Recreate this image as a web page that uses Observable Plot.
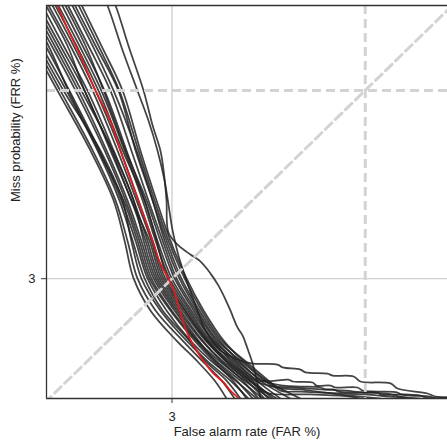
<!DOCTYPE html>
<html><head><meta charset="utf-8">
<script src="https://cdn.jsdelivr.net/npm/d3@7"></script>
<script src="https://cdn.jsdelivr.net/npm/@observablehq/plot@0.6"></script>
<style>
html,body{margin:0;padding:0;background:#fff;}
#chart{width:447px;height:448px;overflow:hidden;}
</style></head><body><div id="chart"></div>
<script>
// Axes are in normal-deviate (probit) units of the error rates (DET plot)
const farDomain = [-2.270, -1.027];
const frrDomain = [-2.262, -1.012];
const tickLabels = ["3"];          // % labels
const tickZ = [-1.881];            // probit(3%)
const refZ = [-1.282];             // probit(10%) reference (dashed)
const diagonal = [-2.4, -0.9];

// miss-rate levels (deviates) at which the FAR of each system curve was read
const frrLevels = [-0.965, -1.140, -1.283, -1.473, -1.632, -1.760, -1.880, -1.982, -2.078, -2.141, -2.205, -2.262];

const farCurves = [
  [-2.413, -2.313, -2.236, -2.134, -2.062, -2.028, -2.000, -1.948, -1.867, -1.805, -1.749, -1.712],
  [-2.403, -2.304, -2.227, -2.127, -2.056, -2.019, -1.988, -1.932, -1.848, -1.789, -1.727, -1.687],
  [-2.391, -2.295, -2.217, -2.103, -2.034, -2.007, -1.976, -1.917, -1.836, -1.774, -1.700, -1.644],
  [-2.382, -2.286, -2.208, -2.112, -2.044, -2.003, -1.966, -1.910, -1.827, -1.780, -1.712, -1.669],
  [-2.372, -2.273, -2.199, -2.106, -2.038, -1.994, -1.957, -1.898, -1.824, -1.762, -1.684, -1.619],
  [-2.360, -2.264, -2.202, -2.109, -2.031, -1.988, -1.951, -1.886, -1.811, -1.755, -1.693, -1.650],
  [-2.351, -2.254, -2.180, -2.090, -2.025, -1.982, -1.945, -1.882, -1.805, -1.746, -1.669, -1.600],
  [-2.338, -2.245, -2.171, -2.084, -2.019, -1.976, -1.938, -1.873, -1.802, -1.737, -1.656, -1.576],
  [-2.329, -2.236, -2.162, -2.065, -2.000, -1.969, -1.932, -1.867, -1.799, -1.749, -1.681, -1.631],
  [-2.320, -2.227, -2.152, -2.072, -2.007, -1.963, -1.926, -1.861, -1.789, -1.727, -1.644, -1.557],
  [-2.307, -2.217, -2.143, -2.062, -2.000, -1.957, -1.920, -1.855, -1.786, -1.731, -1.662, -1.613],
  [-2.298, -2.205, -2.152, -2.068, -2.007, -1.951, -1.914, -1.848, -1.777, -1.715, -1.638],
  [-2.289, -2.196, -2.127, -2.050, -1.991, -1.945, -1.908, -1.842, -1.774, -1.718, -1.650, -1.594],
  [-2.276, -2.186, -2.118, -2.041, -1.985, -1.941, -1.902, -1.839, -1.771, -1.706, -1.625],
  [-2.267, -2.177, -2.109, -2.034, -1.966, -1.929, -1.895, -1.833, -1.768, -1.712, -1.638, -1.582],
  [-2.258, -2.168, -2.100, -2.028, -1.972, -1.932, -1.889, -1.827, -1.762, -1.693, -1.613],
  [-2.245, -2.158, -2.090, -2.022, -1.966, -1.926, -1.882, -1.821, -1.755, -1.700, -1.631, -1.569],
  [-2.236, -2.149, -2.093, -2.025, -1.960, -1.917, -1.873, -1.814, -1.752, -1.681, -1.600],
  [-2.227, -2.140, -2.072, -2.007, -1.954, -1.910, -1.867, -1.808, -1.746, -1.687, -1.619, -1.545],
  [-2.214, -2.127, -2.062, -1.991, -1.941, -1.904, -1.858, -1.802, -1.740, -1.669, -1.594],
  [-2.205, -2.118, -2.047, -1.994, -1.941, -1.898, -1.852, -1.796, -1.734, -1.675, -1.607, -1.514],
  [-2.193, -2.109, -2.044, -1.985, -1.935, -1.892, -1.842, -1.789, -1.727, -1.656, -1.582],
  [-2.183, -2.100, -2.034, -1.979, -1.929, -1.886, -1.836, -1.783, -1.721, -1.662, -1.588, -1.483]
];

// low-miss tails [far, frr] of the curves that do not reach 0 quickly
const tailF = [[-1.591,-2.243],[-1.452,-2.249],[-1.328,-2.256],[-1.297,-2.262]];
const tailH = [[-1.582,-2.221],[-1.514,-2.227],[-1.421,-2.233],[-1.343,-2.237],[-1.290,-2.243],[-1.219,-2.246],[-1.172,-2.256],[-1.142,-2.262]];
const tailB = [[-1.520,-2.202],[-1.507,-2.208],[-1.445,-2.211],[-1.433,-2.221],[-1.390,-2.221],[-1.374,-2.227],[-1.306,-2.227],[-1.290,-2.237],[-1.244,-2.240],[-1.182,-2.243],[-1.172,-2.249],[-1.142,-2.253],[-1.080,-2.256],[-1.064,-2.262],[-1.002,-2.262]];
const tailC = [[-1.535,-2.221],[-1.483,-2.224],[-1.421,-2.227],[-1.405,-2.233],[-1.380,-2.233],[-1.365,-2.240],[-1.328,-2.243],[-1.244,-2.243],[-1.235,-2.249],[-1.172,-2.249],[-1.111,-2.253],[-1.095,-2.259],[-1.002,-2.259]];
const tailD = [[-1.560,-2.227],[-1.483,-2.233],[-1.430,-2.240],[-1.368,-2.249],[-1.297,-2.256],[-1.235,-2.262]];
const tailE = [[-1.545,-2.237],[-1.483,-2.240],[-1.359,-2.246],[-1.281,-2.249],[-1.204,-2.256],[-1.111,-2.262]];
const tailA = [[-1.554,-2.154],[-1.538,-2.163],[-1.483,-2.170],[-1.467,-2.179],[-1.399,-2.183],[-1.383,-2.189],[-1.318,-2.192],[-1.297,-2.208],[-1.204,-2.214],[-1.182,-2.230],[-1.089,-2.246],[-1.064,-2.256],[-1.002,-2.256]];
const tailOf = {11: tailF, 13: tailH, 15: tailB, 17: tailC, 19: tailD, 21: tailE};

// two steeper systems
const outlier1Far = [-2.103,-2.081,-2.034,-1.988,-1.954,-1.926,-1.904,-1.879,-1.861,-1.836,-1.808,-1.777,-1.731,-1.669,-1.631];
const outlier1Frr = [-0.965,-1.012,-1.155,-1.283,-1.378,-1.473,-1.569,-1.728,-1.807,-1.887,-1.966,-2.046,-2.109,-2.141,-2.151];
const outlier2Far = [-2.078,-2.056,-2.016,-1.969,-1.941,-1.917,-1.907,-1.898,-1.892,-1.861,-1.824,-1.793,-1.762,-1.737,-1.718,-1.700,-1.678,-1.662,-1.647,-1.631,-1.616,-1.607,-1.604];
const outlier2Frr = [-0.965,-1.012,-1.140,-1.283,-1.394,-1.473,-1.537,-1.632,-1.734,-1.775,-1.804,-1.826,-1.864,-1.903,-1.941,-1.982,-2.036,-2.062,-2.103,-2.151,-2.214,-2.262,-2.275];

// highlighted system (red)
const redFar = [-2.242,-2.236,-2.202,-2.165,-2.118,-2.072,-2.041,-2.010,-1.985,-1.963,-1.941,-1.917,-1.892,-1.879,-1.861,-1.848,-1.833,-1.814,-1.799,-1.777,-1.752,-1.721,-1.700,-1.675,-1.669];
const redFrr = [-0.996,-1.012,-1.092,-1.171,-1.283,-1.378,-1.473,-1.562,-1.632,-1.696,-1.760,-1.833,-1.880,-1.909,-1.966,-2.014,-2.055,-2.094,-2.119,-2.151,-2.183,-2.211,-2.237,-2.262,-2.275];

const xLabel = "False alarm rate (FAR %)";
const yLabel = "Miss probability (FRR %)";

// ---- build tables ----
const rows = [];
farCurves.forEach((xs, i) => {
  xs.forEach((x, j) => rows.push({id: "s" + i, far: x, frr: frrLevels[j]}));
  (tailOf[i] || []).forEach(([x, y]) => rows.push({id: "s" + i, far: x, frr: y}));
});
outlier1Far.forEach((x, j) => rows.push({id: "o1", far: x, frr: outlier1Frr[j]}));
tailA.forEach(([x, y]) => rows.push({id: "o1", far: x, frr: y}));
outlier2Far.forEach((x, j) => rows.push({id: "o2", far: x, frr: outlier2Frr[j]}));
const red = redFar.map((x, j) => ({far: x, frr: redFrr[j]}));

const font = "'Liberation Sans', Arial, Helvetica, sans-serif";
const dash = {stroke: "#d3d3d3", strokeWidth: 3, strokeDasharray: "9,5"};

const chart = Plot.plot({
  width: 447, height: 448,
  marginLeft: 46, marginRight: 0, marginTop: 5, marginBottom: 50,
  style: {fontFamily: font, fontSize: "13px", background: "#fff", color: "#222"},
  x: {domain: farDomain, label: null},
  y: {domain: frrDomain, label: null},
  marks: [
    Plot.ruleX(tickZ, {stroke: "#c4c4c4", strokeWidth: 1.1}),
    Plot.ruleY(tickZ, {stroke: "#c4c4c4", strokeWidth: 1.1}),
    Plot.line(rows, {x: "far", y: "frr", z: "id", curve: "catmull-rom", stroke: "#222", strokeOpacity: 0.85, strokeWidth: 1.75, clip: true}),
    Plot.ruleX(refZ, dash),
    Plot.ruleY(refZ, dash),
    Plot.line(diagonal, {x: d => d, y: d => d, ...dash, clip: true}),
    Plot.line(red, {x: "far", y: "frr", curve: "catmull-rom", stroke: "#e3191b", strokeWidth: 1.7, clip: true}),
    Plot.ruleX([farDomain[0]], {stroke: "#333", strokeWidth: 1.3}),
    Plot.ruleY([frrDomain[0], frrDomain[1]], {stroke: "#333", strokeWidth: 1.3}),
    Plot.axisX(tickZ, {tickFormat: (d, i) => tickLabels[i], tickSize: 5, tickPadding: 8, label: null, fontSize: 13, stroke: "#333"}),
    Plot.axisY(tickZ, {tickFormat: (d, i) => tickLabels[i], tickSize: 5, tickPadding: 6, label: null, fontSize: 13, stroke: "#333"}),
    Plot.text([xLabel], {frameAnchor: "bottom", dy: 37, text: d => d, fontSize: 13, fill: "#222"}),
    Plot.text([yLabel], {frameAnchor: "left", dx: -31, rotate: -90, text: d => d, fontSize: 13, fill: "#222"})
  ]
});
document.getElementById("chart").appendChild(chart);
</script>
</body></html>
